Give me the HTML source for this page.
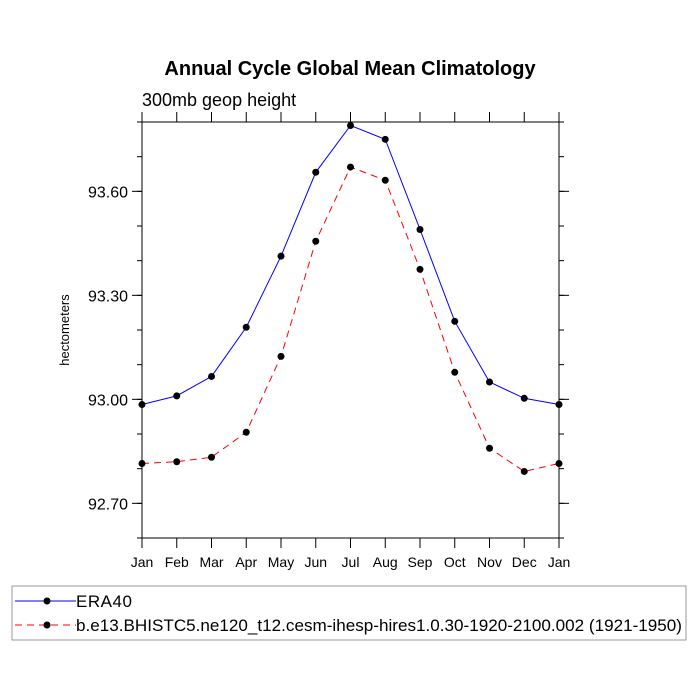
<!DOCTYPE html>
<html><head><meta charset="utf-8"><style>body{margin:0;background:#fff}svg{display:block;font-family:"Liberation Sans",sans-serif}</style></head>
<body>
<svg id="c" width="700" height="700">
<text x="350" y="75" text-anchor="middle" font-size="20" font-weight="bold">Annual Cycle Global Mean Climatology</text>
<text x="142" y="106" font-size="18">300mb geop height</text>
<text transform="translate(69,330) rotate(-90)" text-anchor="middle" font-size="13">hectometers</text>
<g id="ax"></g>
<rect x="12" y="586" width="674" height="54" fill="none" stroke="#999"/>
<g>
<line x1="15" y1="601" x2="76" y2="601" stroke="#00f"/><circle cx="47" cy="601" r="3.5"/>
<text x="76" y="607" font-size="17" textLength="56">ERA40</text></g>
<g>
<line x1="15" y1="625" x2="76" y2="625" stroke="#f00" stroke-dasharray="7,5"/><circle cx="47" cy="625" r="3.5"/>
<text x="76" y="631" font-size="17" textLength="606" lengthAdjust="spacingAndGlyphs">b.e13.BHISTC5.ne120_t12.cesm-ihesp-hires1.0.30-1920-2100.002 (1921-1950)</text></g>
</svg>
<script>
const months=["Jan","Feb","Mar","Apr","May","Jun","Jul","Aug","Sep","Oct","Nov","Dec","Jan"];
const era40=[92.985,93.01,93.066,93.208,93.413,93.655,93.79,93.75,93.49,93.225,93.05,93.003,92.985];
const model=[92.815,92.82,92.833,92.905,93.124,93.456,93.67,93.632,93.375,93.078,92.859,92.792,92.815];
const yTicks=[92.70,93.00,93.30,93.60];
const yTickLabels=["92.70","93.00","93.30","93.60"];
const yMin=92.6,yMax=93.8;
const L=142,R=559,T=122,B=538;
const xs=i=>L+(R-L)*i/(months.length-1);
const ys=v=>B-(v-yMin)/(yMax-yMin)*(B-T);
const ns="http://www.w3.org/2000/svg",g=document.getElementById('ax');
function mk(t,a,p){const e=document.createElementNS(ns,t);for(const k in a)e.setAttribute(k,a[k]);(p||g).appendChild(e);return e;}
const frame=mk('rect',{x:L,y:T,width:R-L,height:B-T,fill:'none',stroke:'#000'});


months.forEach((m,i)=>{const x=xs(i);
mk('line',{x1:x,y1:B,x2:x,y2:B+10,stroke:'#000'});mk('line',{x1:x,y1:T,x2:x,y2:T-10,stroke:'#000'});
const t=mk('text',{x:x,y:567,'text-anchor':'middle','font-size':14});t.textContent=m;

});
for(let v=yMin;v<=yMax+1e-9;v+=0.1){const y=ys(v);mk('line',{x1:L,y1:y,x2:L-5,y2:y,stroke:'#000'});mk('line',{x1:R,y1:y,x2:R+5,y2:y,stroke:'#000'});}
yTicks.forEach((v,i)=>{const y=ys(v);
mk('line',{x1:L,y1:y,x2:L-10,y2:y,stroke:'#000'});mk('line',{x1:R,y1:y,x2:R+10,y2:y,stroke:'#000'});
const t=mk('text',{x:L-14,y:y+6,'text-anchor':'end','font-size':16});t.textContent=yTickLabels[i];

});
function series(d,col,dash,name){
const p=mk('polyline',{points:d.map((v,i)=>xs(i)+','+ys(v)).join(' '),fill:'none',stroke:col,'stroke-dasharray':dash});


d.forEach((v,i)=>{const c=mk('circle',{cx:xs(i),cy:ys(v),r:3.5});

});}
series(model,'#f00','7,5','model');
series(era40,'#00f','none','era40');
</script>
</body></html>
